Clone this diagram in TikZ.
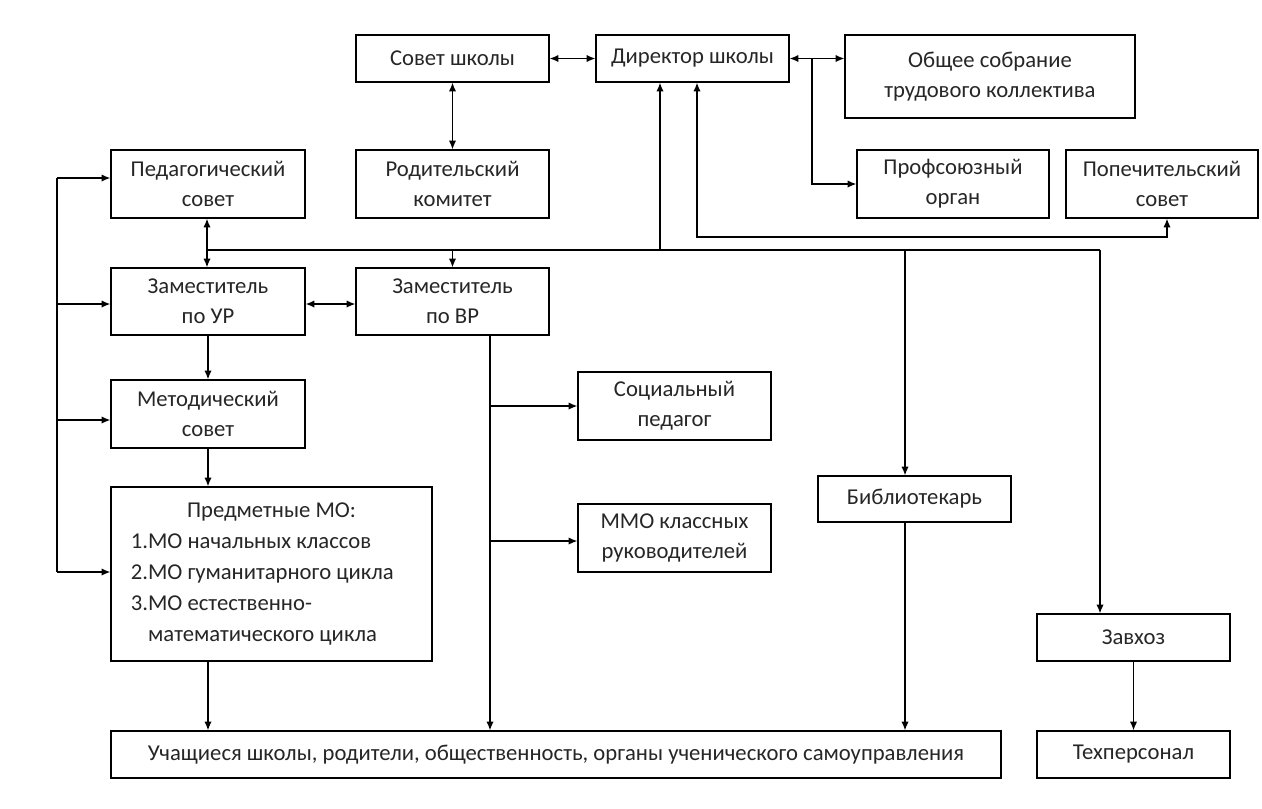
\documentclass[tikz,border=0pt]{standalone}
\usepackage{fontspec}
\setmainfont{Carlito}
\usetikzlibrary{arrows.meta,calc}
\begin{document}
\begin{tikzpicture}[x=0.75pt,y=-0.75pt,
  box/.style={draw, line width=1pt, inner sep=0pt, align=center, text=black!85, font=\fontsize{17}{22.5}\selectfont},
  sz/.style n args={2}{minimum width=#1*0.75pt, minimum height=#2*0.75pt},
  conn/.style={line width=1pt},
  >={Latex[length=6.5pt,width=5.5pt]}]
\useasboundingbox (0,0) rectangle (1262,808);
% boxes
\node[box, sz={193}{47}] (sovet) at (452.5,58.5) {Совет школы};
\node[box, sz={193}{47}] (dir) at (692.5,58.5) {Директор школы};
\node[box, sz={290}{83}] (obsh) at (990,76.5) {Общее собрание\\трудового коллектива};
\node[box, sz={194}{68}] (ped) at (208,184) {Педагогический\\совет};
\node[box, sz={193}{68}] (rod) at (452.5,184) {Родительский\\комитет};
\node[box, sz={192}{68}] (prof) at (953,184) {Профсоюзный\\орган};
\node[box, sz={192}{68}] (pop) at (1162,184) {Попечительский\\совет};
\node[box, sz={194}{67}] (zur) at (208,301.5) {Заместитель\\по УР};
\node[box, sz={193}{67}] (zvr) at (452.5,301.5) {Заместитель\\по ВР};
\node[box, sz={194}{68}] (met) at (208,414) {Методический\\совет};
\node[box, sz={321}{174}, text width=211pt, align=left,
      font=\fontsize{17}{23.25}\selectfont] (mo) at (271.5,574)
  {\spaceskip=0pt\xspaceskip=0pt\makebox[\hsize]{Предметные МО:}\\1.МО начальных классов\\2.МО гуманитарного цикла\\3.МО естественно-\\\hspace*{13pt}математического цикла};
\node[box, sz={193}{68}] (soc) at (674.5,406) {Социальный\\педагог};
\node[box, sz={193}{68}] (mmo) at (674.5,538) {ММО классных\\руководителей};
\node[box, sz={193}{46}] (bib) at (914.5,499) {Библиотекарь};
\node[box, sz={193}{47}] (zav) at (1133.5,637.5) {Завхоз};
\node[box, sz={890}{47}] (uch) at (556,754.5) {Учащиеся школы, родители, общественность, органы ученического самоуправления};
\node[box, sz={193}{47}] (tech) at (1133.5,754.5) {Техперсонал};
% coordinates
\coordinate (d1) at (812,58.5);
\coordinate (dA) at (697,237);
\coordinate (pA) at (1167,237);
\coordinate (b1) at (207,250);
\coordinate (b2) at (452.5,250);
\coordinate (b3) at (660,250);
\coordinate (b4) at (905,250);
\coordinate (b5) at (1100,250);
\coordinate (L1) at (57,178);
\coordinate (L2) at (57,304);
\coordinate (L3) at (57,420);
\coordinate (L4) at (57,572);
\coordinate (v1) at (490,406);
\coordinate (v2) at (490,541);
\coordinate (h1) at (0,304);
% top connectors
\draw[conn,<->] (sovet.east) -- (dir.west);
\draw[conn,<->] (sovet.south) -- (rod.north);
\draw[conn,<->] (dir.east) -- (obsh.west |- dir.east);
\draw[conn,->] (d1) |- (prof.west);
\draw[conn,<->] (dir.south -| dA) -- (dA) -- (pA) -- (pop.south -| pA);
% bus
\draw[conn] (b1) -- (b5);
\draw[conn,->] (b1) -- (ped.south -| b1);
\draw[conn,->] (b1) -- (zur.north -| b1);
\draw[conn,->] (b2) -- (zvr.north);
\draw[conn,->] (b3) -- (dir.south -| b3);
\draw[conn,->] (b4) -- (bib.north -| b4);
\draw[conn,->] (b5) -- (zav.north -| b5);
% left bus
\draw[conn] (L1) -- (L4);
\draw[conn,->] (L1) -- (ped.west |- L1);
\draw[conn,->] (L2) -- (zur.west |- L2);
\draw[conn,->] (L3) -- (met.west |- L3);
\draw[conn,->] (L4) -- (mo.west |- L4);
% deputies
\draw[conn,<->] (zur.east |- h1) -- (zvr.west |- h1);
\draw[conn,->] (zur.south) -- (met.north);
\draw[conn,->] (met.south) -- (met.south |- mo.north);
\draw[conn,->] (met.south |- mo.south) -- (met.south |- uch.north);
\draw[conn,->] (zvr.south -| v1) -- (uch.north -| v1);
\draw[conn,->] (v1) -- (soc.west |- v1);
\draw[conn,->] (v2) -- (mmo.west |- v2);
\draw[conn,->] (bib.south -| b4) -- (uch.north -| b4);
\draw[conn,->] (zav.south) -- (tech.north);
\end{tikzpicture}
\end{document}
